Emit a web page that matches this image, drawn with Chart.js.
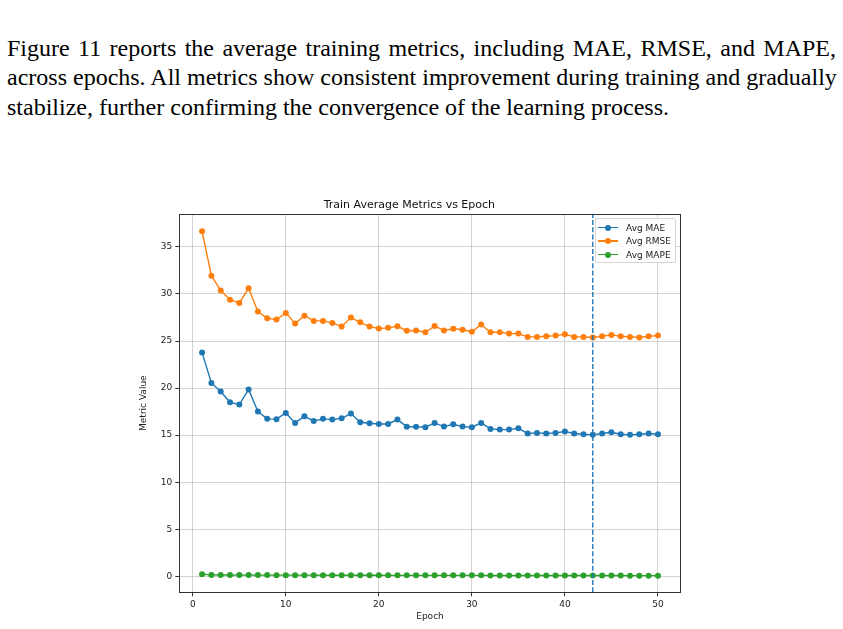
<!doctype html>
<html lang="en">
  <head>
    <meta charset="utf-8">
    <title>Train Average Metrics vs Epoch</title>
    <style>
      html, body { margin: 0; padding: 0; background: #fff; }
      body { width: 843px; height: 629px; position: relative; overflow: hidden; }
      #para {
        position: absolute; left: 7px; top: 33.7px; width: 829px; margin: 0;
        font-family: "Liberation Serif", "Times New Roman", serif;
        font-size: 24px; line-height: 29.5px; color: #000;
      }
      #para span { display: block; white-space: nowrap; }
      #para .j { text-align: justify; text-align-last: justify; }
      #chart-wrap { position: absolute; left: 138px; top: 190px; width: 552px; height: 439px; }
      #legend {
        position: absolute; left: 595px; top: 218px; width: 79px; height: 43px;
        background: rgba(255,255,255,0.85); border: 1px solid #d6d6d6; border-radius: 2px;
        font-family: "DejaVu Sans", sans-serif; font-size: 9px; color: #222;
      }
      #legend .row { position: absolute; left: 0; height: 12px; width: 100%; }
      #legend .ln { position: absolute; left: 2px; width: 20px; top: 5.3px; height: 1.4px; }
      #legend .dot { position: absolute; left: 9px; top: 3px; width: 6px; height: 6px; border-radius: 50%; }
      #legend .txt { position: absolute; left: 30px; top: 0; line-height: 12px; white-space: nowrap; }
    </style>
  </head>
  <body>
    <p id="para"><span class="j">Figure 11 reports the average training metrics, including MAE, RMSE, and MAPE,</span><span class="j">across epochs. All metrics show consistent improvement during training and gradually</span><span>stabilize, further confirming the convergence of the learning process.</span></p>
    <div id="chart-wrap"><canvas id="chart"></canvas></div>
    <div id="legend"></div>
    <script src="https://cdn.jsdelivr.net/npm/chart.js@4.4.1/dist/chart.umd.min.js"></script>
    <script>
      const epochs = [1, 2, 3, 4, 5, 6, 7, 8, 9, 10, 11, 12, 13, 14, 15, 16, 17, 18, 19, 20,
        21, 22, 23, 24, 25, 26, 27, 28, 29, 30, 31, 32, 33, 34, 35, 36, 37, 38, 39, 40,
        41, 42, 43, 44, 45, 46, 47, 48, 49, 50];
      const avgMAE = [23.77, 20.55, 19.63, 18.49, 18.25, 19.84, 17.5, 16.73, 16.7, 17.36,
        16.3, 17.0, 16.51, 16.73, 16.65, 16.79, 17.29, 16.37, 16.26, 16.19,
        16.19, 16.65, 15.9, 15.9, 15.84, 16.3, 15.91, 16.15, 15.91, 15.84,
        16.3, 15.66, 15.59, 15.59, 15.73, 15.17, 15.24, 15.17, 15.24, 15.38,
        15.17, 15.09, 15.03, 15.17, 15.31, 15.09, 15.03, 15.09, 15.17, 15.09];
      const avgRMSE = [36.66, 31.95, 30.36, 29.4, 29.05, 30.6, 28.13, 27.42, 27.28, 27.99,
        26.86, 27.7, 27.14, 27.14, 26.93, 26.54, 27.49, 26.99, 26.54, 26.32,
        26.4, 26.57, 26.1, 26.12, 25.93, 26.6, 26.12, 26.3, 26.2, 26.0,
        26.75, 25.93, 25.93, 25.79, 25.79, 25.44, 25.44, 25.51, 25.58, 25.72,
        25.44, 25.44, 25.37, 25.51, 25.65, 25.51, 25.44, 25.37, 25.51, 25.58];
      const avgMAPE = [0.22, 0.15, 0.14, 0.14, 0.13, 0.14, 0.13, 0.13, 0.12, 0.12,
        0.12, 0.12, 0.12, 0.11, 0.11, 0.11, 0.11, 0.11, 0.11, 0.11,
        0.1, 0.1, 0.1, 0.1, 0.1, 0.1, 0.1, 0.1, 0.1, 0.1,
        0.1, 0.09, 0.09, 0.09, 0.09, 0.08, 0.09, 0.08, 0.08, 0.08,
        0.08, 0.08, 0.08, 0.08, 0.08, 0.08, 0.07, 0.07, 0.07, 0.07];
      const bestEpoch = 43;
      const xTicks = [0, 10, 20, 30, 40, 50];
      const yTicks = [0, 5, 10, 15, 20, 25, 30, 35];
      const xMin = -1.45, xMax = 52.45;
      const yMin = -1.7, yMax = 38.5;

      const toPoints = (vals) => vals.map((v, i) => ({x: epochs[i], y: v}));
      const series = (label, vals, color, order) => ({
        label: label,
        data: toPoints(vals),
        borderColor: color,
        backgroundColor: color,
        borderWidth: 1.4,
        pointRadius: 3,
        pointBorderWidth: 0,
        pointBackgroundColor: color,
        order: order
      });

      // plot frame (all four spines)
      const frame = {
        id: 'frame',
        afterDatasetsDraw(chart) {
          const {ctx, chartArea: a} = chart;
          ctx.save();
          ctx.strokeStyle = '#333';
          ctx.lineWidth = 1;
          ctx.strokeRect(Math.round(a.left) + 0.5, Math.round(a.top) + 0.5,
            Math.round(a.right - a.left), Math.round(a.bottom - a.top));
          ctx.restore();
        }
      };

      const font = {family: 'DejaVu Sans', size: 9};
      const ctx = document.getElementById('chart').getContext('2d');
      const myChart = new Chart(ctx, {
        type: 'line',
        data: {
          datasets: [
            {
              label: '',
              data: [{x: bestEpoch, y: yMin}, {x: bestEpoch, y: yMax}],
              borderColor: '#1f77b4',
              borderWidth: 1.4,
              borderDash: [5, 2.2],
              pointRadius: 0,
              order: 0
            },
            series('Avg MAE', avgMAE, '#1f77b4', 3),
            series('Avg RMSE', avgRMSE, '#ff7f0e', 2),
            series('Avg MAPE', avgMAPE, '#2ca02c', 1)
          ]
        },
        options: {
          responsive: true,
          maintainAspectRatio: false,
          animation: false,
          events: [],
          layout: {padding: {left: 0, right: 9.3, top: 0, bottom: 0}},
          plugins: {
            legend: {display: false},
            tooltip: {enabled: false},
            title: {
              display: true,
              text: 'Train Average Metrics vs Epoch',
              color: '#111',
              font: {family: 'DejaVu Sans', size: 11, weight: 'normal'},
              padding: {top: 8.4, bottom: 2.4}
            }
          },
          scales: {
            x: {
              type: 'linear',
              min: xMin,
              max: xMax,
              afterBuildTicks: (s) => { s.ticks = xTicks.map(v => ({value: v})); },
              afterFit: (s) => { s.height = 36.7; },
              ticks: {font: font, color: '#222', padding: 3, maxRotation: 0},
              grid: {color: 'rgba(176,176,176,0.55)', lineWidth: 1, tickColor: '#333', tickLength: 4},
              border: {display: false},
              title: {display: true, text: 'Epoch', color: '#222', font: font, padding: {top: 0, bottom: 6.9}}
            },
            y: {
              type: 'linear',
              min: yMin,
              max: yMax,
              afterBuildTicks: (s) => { s.ticks = yTicks.map(v => ({value: v})); },
              afterFit: (s) => { s.width = 41.3; },
              ticks: {font: font, color: '#222', padding: 3},
              grid: {color: 'rgba(176,176,176,0.55)', lineWidth: 1, tickColor: '#333', tickLength: 4},
              border: {display: false},
              title: {display: true, text: 'Metric Value', color: '#222', font: font, padding: {top: 0.6, bottom: 0}}
            }
          }
        },
        plugins: [frame]
      });

      // legend box, built from the chart's datasets
      const legend = document.getElementById('legend');
      myChart.data.datasets.filter(d => d.label).forEach((d, i) => {
        const row = document.createElement('div');
        row.className = 'row';
        row.style.top = (2.5 + 13.5 * i) + 'px';
        row.innerHTML = '<span class="ln"></span><span class="dot"></span><span class="txt"></span>';
        row.querySelector('.ln').style.background = d.borderColor;
        row.querySelector('.dot').style.background = d.borderColor;
        row.querySelector('.txt').textContent = d.label;
        legend.appendChild(row);
      });
    </script>
  </body>
</html>
